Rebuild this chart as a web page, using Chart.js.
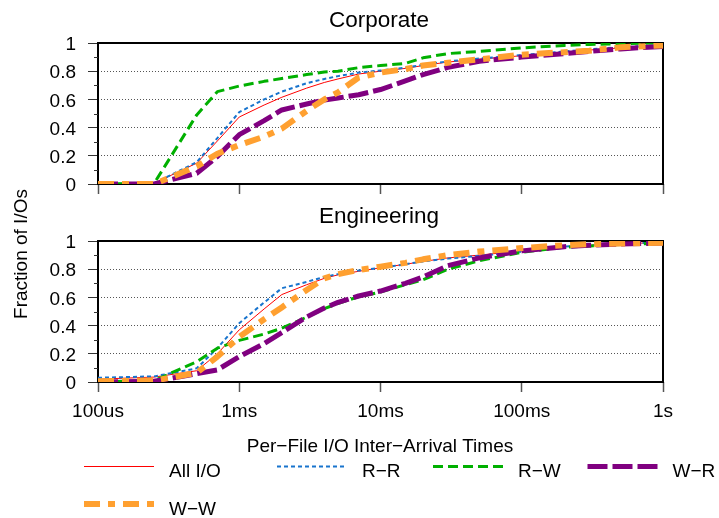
<!DOCTYPE html>
<html>
<head>
<meta charset="utf-8">
<script src="https://cdn.jsdelivr.net/npm/chart.js@4.4.0/dist/chart.umd.min.js"></script>
<style>
  html, body { margin: 0; padding: 0; background: #fff; }
  #wrap { position: relative; width: 719px; height: 518px; }
  canvas { position: absolute; left: 0; top: 0; }
</style>
</head>
<body>
<div id="wrap">
  <canvas id="corp" width="719" height="518"></canvas>
  <canvas id="eng" width="719" height="518"></canvas>
</div>
<script>
// sample times in seconds, shared by every curve
const times = [1e-4, 2.5e-4, 5e-4, 7e-4, 1e-3, 1.5e-3, 2e-3, 3e-3, 4e-3, 5e-3, 7e-3,
               1e-2, 1.5e-2, 2e-2, 3e-2, 5e-2, 0.1, 0.2, 0.3, 0.5, 1];
const seriesNames = ['All I/O', 'R\u2212R', 'R\u2212W', 'W\u2212R', 'W\u2212W'];

const xTickValues = [1e-4, 1e-3, 1e-2, 1e-1, 1];
const xTickLabels = ['100us', '1ms', '10ms', '100ms', '1s'];
const yTickValues = [0, 0.2, 0.4, 0.6, 0.8, 1];
const yTickLabels = ['0', '0.2', '0.4', '0.6', '0.8', '1'];
const yMinorTicks = [0.1, 0.3, 0.5, 0.7, 0.9];

// Corporate
const corpAll = [0, 0.005, 0.148, 0.305, 0.475, 0.56, 0.615, 0.68, 0.72, 0.745, 0.78, 0.80, 0.82, 0.84, 0.865, 0.885, 0.91, 0.935, 0.95, 0.965, 0.98];
const corpRR  = [0, 0.005, 0.155, 0.326, 0.51, 0.60, 0.655, 0.715, 0.745, 0.765, 0.79, 0.805, 0.825, 0.845, 0.87, 0.89, 0.915, 0.94, 0.955, 0.97, 0.985];
const corpRW  = [0, 0.005, 0.49, 0.655, 0.695, 0.728, 0.748, 0.776, 0.795, 0.80, 0.825, 0.84, 0.855, 0.895, 0.925, 0.94, 0.965, 0.983, 0.99, 0.995, 1.0];
const corpWR  = [0, 0, 0.076, 0.195, 0.35, 0.449, 0.525, 0.567, 0.595, 0.61, 0.633, 0.67, 0.731, 0.776, 0.827, 0.871, 0.90, 0.925, 0.94, 0.958, 0.976];
const corpWW  = [0, 0, 0.125, 0.215, 0.276, 0.336, 0.393, 0.519, 0.60, 0.65, 0.755, 0.79, 0.815, 0.84, 0.86, 0.884, 0.917, 0.935, 0.945, 0.97, 0.983];

// Engineering
const engAll = [0.02, 0.035, 0.08, 0.20, 0.37, 0.518, 0.62, 0.69, 0.735, 0.76, 0.785, 0.81, 0.835, 0.855, 0.88, 0.90, 0.93, 0.96, 0.97, 0.98, 0.99];
const engRR  = [0.03, 0.04, 0.097, 0.24, 0.417, 0.564, 0.665, 0.71, 0.745, 0.765, 0.79, 0.81, 0.835, 0.855, 0.875, 0.895, 0.925, 0.96, 0.97, 0.98, 0.99];
const engRW  = [0, 0.01, 0.144, 0.24, 0.295, 0.34, 0.382, 0.46, 0.52, 0.557, 0.605, 0.638, 0.69, 0.725, 0.80, 0.86, 0.92, 0.955, 0.965, 0.975, 0.985];
const engWR  = [0, 0.005, 0.059, 0.086, 0.18, 0.273, 0.351, 0.461, 0.525, 0.565, 0.61, 0.645, 0.70, 0.745, 0.825, 0.88, 0.93, 0.96, 0.97, 0.978, 0.985];
const engWW  = [0.005, 0.01, 0.065, 0.18, 0.32, 0.445, 0.529, 0.653, 0.735, 0.765, 0.795, 0.818, 0.845, 0.87, 0.90, 0.925, 0.95, 0.97, 0.977, 0.982, 0.988];

const FONT = '"Liberation Sans", Arial, Helvetica, sans-serif';
const W = 719, H = 518;

const lineStyles = [
  { color: '#ff0000', width: 1, dash: [] },
  { color: '#1874cd', width: 2, dash: [4, 3] },
  { color: '#00b000', width: 3, dash: [10, 5] },
  { color: '#800080', width: 5, dash: [20, 5] },
  { color: '#ffa030', width: 6, dash: [16, 8, 7, 8] }
];

Chart.defaults.font.family = FONT;
Chart.defaults.font.size = 19;
Chart.defaults.color = '#000';

// frame, minor ticks, titles and legend
const panelDecor = {
  id: 'panelDecor',
  beforeDatasetsDraw(chart) {
    const { ctx, chartArea: a } = chart;
    const y = chart.scales.y;
    ctx.save();
    ctx.strokeStyle = '#000';
    ctx.lineWidth = 2;
    ctx.strokeRect(a.left, a.top, a.right - a.left, a.bottom - a.top);
    ctx.lineWidth = 1;
    ctx.strokeStyle = '#333';
    yMinorTicks.forEach(v => {
      const py = Math.round(y.getPixelForValue(v)) + 0.5;
      ctx.beginPath();
      ctx.moveTo(a.left - 4, py);
      ctx.lineTo(a.left, py);
      ctx.stroke();
    });
    ctx.restore();
  },
  afterDraw(chart, args, opts) {
    const ctx = chart.ctx;
    ctx.save();
    ctx.fillStyle = '#000';
    ctx.textBaseline = 'alphabetic';
    ctx.textAlign = 'center';
    ctx.font = '22.5px ' + FONT;
    ctx.fillText(opts.title, 379, opts.titleY);

    if (opts.extras) {
      ctx.font = '19px ' + FONT;
      ctx.fillText('Per\u2212File I/O Inter\u2212Arrival Times', 380, 452);

      ctx.save();
      ctx.translate(27, 254);
      ctx.rotate(-Math.PI / 2);
      ctx.fillText('Fraction of I/Os', 0, 0);
      ctx.restore();

      // legend
      const colX = [84, 277, 433, 587.5];
      const rowY = [466.5, 504];
      chart.data.datasets.forEach((ds, i) => {
        const lx = colX[i % 4];
        const ly = rowY[Math.floor(i / 4)];
        ctx.save();
        ctx.strokeStyle = ds.borderColor;
        ctx.lineWidth = ds.borderWidth;
        ctx.setLineDash(ds.borderDash);
        ctx.lineCap = 'butt';
        ctx.beginPath();
        ctx.moveTo(lx, ly);
        ctx.lineTo(lx + 70, ly);
        ctx.stroke();
        ctx.restore();
        ctx.textAlign = 'left';
        ctx.fillText(ds.label, lx + 85, ly + 10.8);
      });
    }
    ctx.restore();
  }
};

function makePanel(id, title, titleY, series, areaTop, areaBottom, isBottom) {
  const datasets = series.map((vals, i) => ({
    label: seriesNames[i],
    data: vals.map((v, j) => ({ x: times[j], y: v })),
    borderColor: lineStyles[i].color,
    borderWidth: lineStyles[i].width,
    borderDash: lineStyles[i].dash,
    borderCapStyle: 'butt',
    borderJoinStyle: 'round',
    pointRadius: 0,
    tension: 0,
    fill: false,
    order: series.length - i
  }));

  return new Chart(document.getElementById(id).getContext('2d'), {
    type: 'line',
    data: { datasets: datasets },
    options: {
      responsive: false,
      animation: false,
      devicePixelRatio: 1,
      layout: { padding: { left: 0, right: 56, top: areaTop, bottom: 0 } },
      plugins: {
        legend: { display: false },
        title: { display: false },
        tooltip: { enabled: false },
        panelDecor: { title: title, titleY: titleY, extras: isBottom }
      },
      scales: {
        x: {
          type: 'logarithmic',
          min: 1e-4,
          max: 1,
          afterBuildTicks: s => { s.ticks = xTickValues.map(v => ({ value: v })); },
          afterFit: s => { s.height = H - areaBottom; },
          ticks: {
            display: isBottom,
            autoSkip: false,
            maxRotation: 0,
            padding: 8,
            color: '#000',
            callback: (v, i) => xTickLabels[i]
          },
          grid: { drawOnChartArea: false, drawTicks: true, tickLength: 10, tickColor: '#555', tickWidth: 1.5 },
          border: { display: false }
        },
        y: {
          min: 0,
          max: 1,
          afterBuildTicks: s => { s.ticks = yTickValues.map(v => ({ value: v })); },
          afterFit: s => { s.width = 98; },
          ticks: { padding: 12, labelOffset: 2, color: '#000', callback: (v, i) => yTickLabels[i] },
          grid: {
            color: c => (c.tick && c.tick.value > 0.01 && c.tick.value < 0.99) ? '#555' : 'rgba(0,0,0,0)',
            lineWidth: 1,
            tickColor: '#333',
            tickLength: 10
          },
          border: { display: false, dash: [1, 2] }
        }
      }
    },
    plugins: [panelDecor]
  });
}

makePanel('corp', 'Corporate', 26.7, [corpAll, corpRR, corpRW, corpWR, corpWW], 43, 184, false);
makePanel('eng', 'Engineering', 223.3, [engAll, engRR, engRW, engWR, engWW], 241, 382, true);
</script>
</body>
</html>
